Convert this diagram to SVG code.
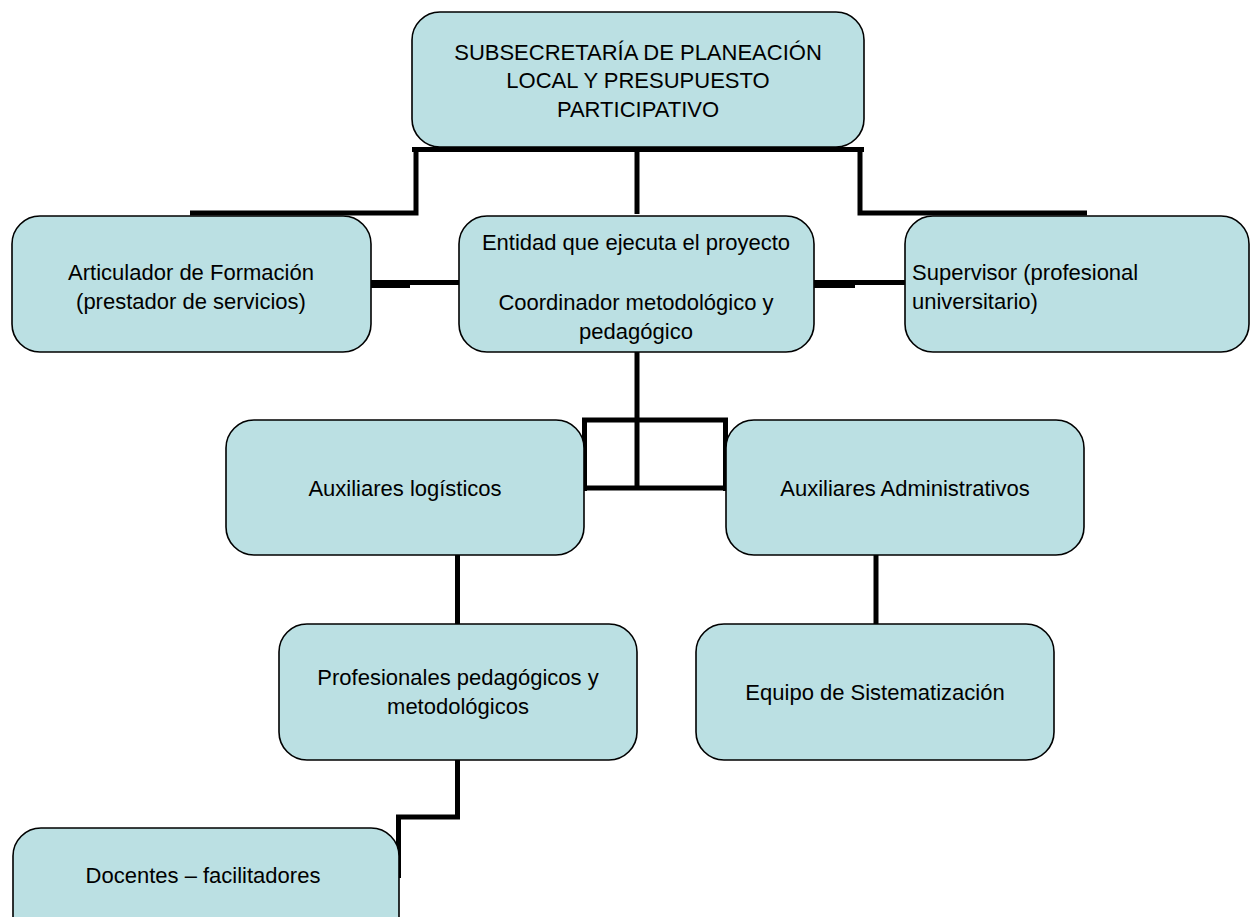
<svg xmlns="http://www.w3.org/2000/svg" width="1250" height="917" viewBox="0 0 1250 917">
<style>
.box{fill:#BBE0E3;stroke:#000;stroke-width:1.6}
.t{font-family:"Liberation Sans",Arial,sans-serif;font-size:22px;fill:#000;text-anchor:middle}
.tl{text-anchor:start}
.c{fill:none;stroke:#000;stroke-width:5;stroke-linecap:butt;stroke-linejoin:miter}
</style>
<rect x="0" y="0" width="1250" height="917" fill="#fff"/>
<g id="connectors">
<path class="c" d="M412 149.5 H864"/>
<path class="c" d="M416 148 V213 H190"/>
<path class="c" d="M637 148 V214"/>
<path class="c" d="M860 148 V213 H1087"/>
<path class="c" d="M367 284 H410" style="stroke-width:8"/>
<path class="c" d="M367 282.5 H461"/>
<path class="c" d="M812 284 H855" style="stroke-width:8"/>
<path class="c" d="M812 282.5 H906"/>
<path class="c" d="M637 352 V488"/>
<path class="c" d="M582 420 H728 M582 488 H728 M584.5 418 V491 M725.5 418 V491"/>
<path class="c" d="M457.5 555 V817 M457.5 760 V817 H398.5 V878"/>
<path class="c" d="M876 555 V624"/>
</g>
<g id="n1"><rect class="box" x="412" y="12" width="452" height="135" rx="28" ry="28"/>
<text class="t" x="638" y="60">SUBSECRETARÍA DE PLANEACIÓN</text>
<text class="t" x="638" y="88">LOCAL Y PRESUPUESTO</text>
<text class="t" x="638" y="117">PARTICIPATIVO</text></g>
<g id="n2"><rect class="box" x="12" y="216" width="359" height="136" rx="28" ry="28"/>
<text class="t" x="191" y="280">Articulador de Formación</text>
<text class="t" x="191" y="309">(prestador de servicios)</text></g>
<g id="n3"><rect class="box" x="459" y="216" width="355" height="136" rx="28" ry="28"/>
<text class="t" x="636" y="250">Entidad que ejecuta el proyecto</text>
<text class="t" x="636" y="310">Coordinador metodológico y</text>
<text class="t" x="636" y="339">pedagógico</text></g>
<g id="n4"><rect class="box" x="905" y="216" width="344" height="136" rx="28" ry="28"/>
<text class="t tl" x="912" y="280">Supervisor (profesional</text>
<text class="t tl" x="912" y="309">universitario)</text></g>
<g id="n5"><rect class="box" x="226" y="420" width="358" height="135" rx="28" ry="28"/>
<text class="t" x="405" y="496">Auxiliares logísticos</text></g>
<g id="n6"><rect class="box" x="726" y="420" width="358" height="135" rx="28" ry="28"/>
<text class="t" x="905" y="496">Auxiliares Administrativos</text></g>
<g id="n7"><rect class="box" x="279" y="624" width="358" height="136" rx="28" ry="28"/>
<text class="t" x="458" y="685">Profesionales pedagógicos y</text>
<text class="t" x="458" y="714">metodológicos</text></g>
<g id="n8"><rect class="box" x="696" y="624" width="358" height="136" rx="28" ry="28"/>
<text class="t" x="875" y="700">Equipo de Sistematización</text></g>
<g id="n9"><rect class="box" x="13" y="828" width="386" height="120" rx="28" ry="28"/>
<text class="t" x="203" y="883">Docentes – facilitadores</text></g>
</svg>
